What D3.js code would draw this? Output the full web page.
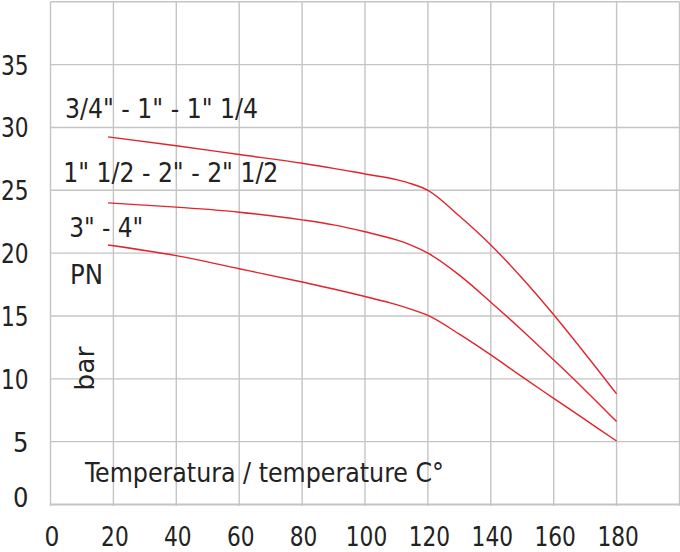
<!DOCTYPE html>
<html>
<head>
<meta charset="utf-8">
<script src="https://cdn.jsdelivr.net/npm/d3@7"></script>
<style>
  html, body { margin: 0; padding: 0; background: #fff; }
  svg { display: block; }
  text { font-family: "DejaVu Sans Condensed", "DejaVu Sans", sans-serif; font-stretch: condensed; fill: #222; }
</style>
</head>
<body>
<svg id="chart" width="680" height="552"></svg>
<script>
// ---- data ----
const xTicks = [0, 20, 40, 60, 80, 100, 120, 140, 160, 180];
const yTicks = [0, 5, 10, 15, 20, 25, 30, 35];
const xGrid = [0, 20, 40, 60, 80, 100, 120, 140, 160, 180, 200];
const yGrid = [0, 5, 10, 15, 20, 25, 30, 35, 40];

const temps   = [18.3, 40, 60, 80, 90, 100, 110, 115, 120, 130, 140, 150, 160, 170, 180];
const series1 = [29.25, 28.55, 27.85, 27.15, 26.75, 26.3, 25.85, 25.5, 25.0, 22.95, 20.65, 18.0, 15.1, 12.0, 8.8];   // 3/4" - 1" - 1" 1/4
const series2 = [24.0, 23.66, 23.26, 22.65, 22.25, 21.7, 21.05, 20.6, 20.0, 18.25, 16.1, 13.85, 11.5, 9.1, 6.6];      // 1" 1/2 - 2" - 2" 1/2
const series3 = [20.65, 19.8, 18.76, 17.7, 17.15, 16.55, 15.9, 15.5, 15.05, 13.55, 11.9, 10.15, 8.45, 6.75, 5.05];   // 3" - 4"
const seriesLabels = ['3/4" - 1" - 1" 1/4', '1" 1/2 - 2" - 2" 1/2', '3" - 4"'];

const svg = d3.select("#chart");
const x = d3.scaleLinear().domain([0, 200]).range([50.5, 679.5]);
const y = d3.scaleLinear().domain([0, 40]).range([504.5, 1.8]);

// grid
const g = svg.append("g");
g.selectAll("line.v").data(xGrid).join("line")
  .attr("x1", d => x(d)).attr("x2", d => x(d))
  .attr("y1", y(40)).attr("y2", y(0) + 1.5)
  .attr("stroke", "#c4c4c4").attr("stroke-width", 1.4);
g.selectAll("line.h").data(yGrid).join("line")
  .attr("y1", d => y(d)).attr("y2", d => y(d))
  .attr("x1", x(0)).attr("x2", x(200))
  .attr("stroke", "#c4c4c4").attr("stroke-width", d => d === 0 ? 2 : 1.4);

// tick labels
const digitW = 13.8;
function fitDigits(sel) {
  sel.each(function(d) {
    const s = String(d);
    if (s.length > 1) d3.select(this).attr("textLength", s.length * digitW).attr("lengthAdjust", "spacingAndGlyphs");
  });
}
svg.selectAll("text.yt").data(yTicks).join("text")
  .attr("x", 28.5).attr("y", d => Math.min(y(d) + 10, y(0) + 2))
  .attr("text-anchor", "end").attr("font-size", 27)
  .text(d => d).call(fitDigits);
svg.selectAll("text.xt").data(xTicks).join("text")
  .attr("x", d => x(d) + 1.5).attr("y", 545.5)
  .attr("text-anchor", "middle").attr("font-size", 26)
  .text(d => d).call(fitDigits);

// lines
const line = d3.line().x(d => x(d[0])).y(d => y(d[1])).curve(d3.curveMonotoneX);
[series1, series2, series3].forEach(s => {
  svg.append("path")
    .datum(temps.map((t, i) => [t, s[i]]))
    .attr("fill", "none").attr("stroke", "#e3232c").attr("stroke-width", 1.4)
    .attr("d", line);
});

// labels
const labelPos = [[65, 118.3, 193], [63.3, 181.7, 215], [69.3, 236.7, 74]];
seriesLabels.forEach((t, i) => {
  svg.append("text").attr("x", labelPos[i][0]).attr("y", labelPos[i][1])
    .attr("font-size", 27).attr("textLength", labelPos[i][2])
    .attr("lengthAdjust", "spacingAndGlyphs").text(t);
});
svg.append("text").attr("x", 70).attr("y", 284).attr("font-size", 27)
  .attr("textLength", 33).attr("lengthAdjust", "spacingAndGlyphs").text("PN");
svg.append("text").attr("transform", "translate(94,368.7) rotate(-90)")
  .attr("text-anchor", "middle").attr("font-size", 27)
  .attr("textLength", 44).attr("lengthAdjust", "spacingAndGlyphs").text("bar");
svg.append("text").attr("x", 85).attr("y", 481.7).attr("font-size", 27)
  .attr("textLength", 359).attr("lengthAdjust", "spacingAndGlyphs").text("Temperatura / temperature C°");
</script>
</body>
</html>
